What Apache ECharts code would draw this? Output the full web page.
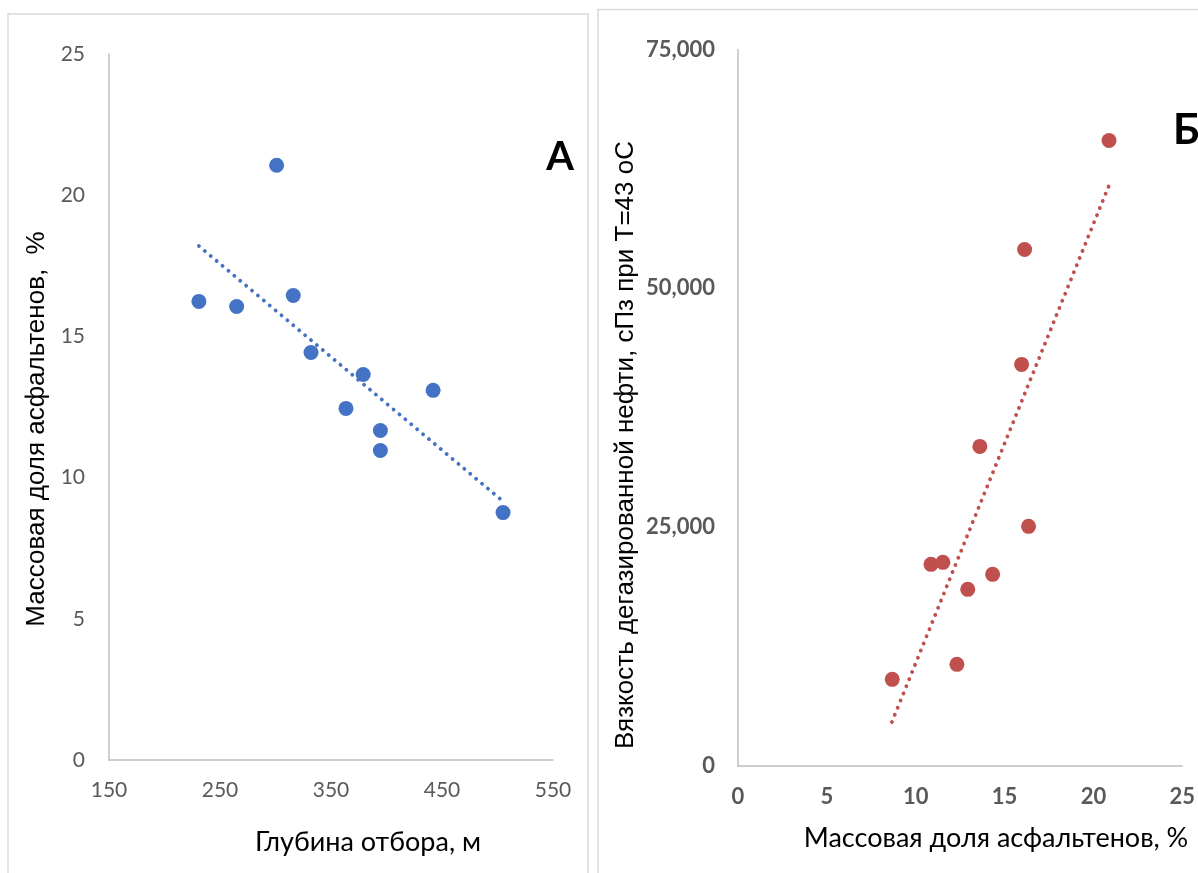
<!DOCTYPE html>
<html><head><meta charset="utf-8">
<script src="https://cdn.jsdelivr.net/npm/echarts@6/dist/echarts.min.js"></script>
<style>html,body{margin:0;padding:0;background:#fff}#c{width:1198px;height:873px}</style>
</head><body><div id="c"></div>
<script>
// Panel A: depth vs asphaltene share
const depthA = [231, 265, 301, 316, 332, 363.5, 379, 394.5, 394.5, 442, 505];
const asphA  = [16.24, 16.06, 21.06, 16.45, 14.43, 12.45, 13.65, 11.67, 10.96, 13.09, 8.76];
const trendAx = [231, 505];
const trendAy = [18.2, 9.16];
// Panel B: asphaltene share vs viscosity
const asphB = [20.88, 16.13, 15.96, 13.61, 16.35, 10.86, 11.53, 14.33, 12.93, 12.32, 8.68];
const viscB = [65478, 54070, 42036, 33455, 25084, 21107, 21317, 20060, 18491, 10643, 9073];
const trendBx = [8.66, 20.9];
const trendBy = [4604, 60874];

const titleAx = 'Глубина отбора, м';
const titleAy = 'Массовая доля асфальтенов,  %';
const titleBx = 'Массовая доля асфальтенов, %';
const titleBy = 'Вязкость дегазированной нефти, сПз при Т=43 оС';

const zip = (a, b) => a.map((v, i) => [v, b[i]]);
const chart = echarts.init(document.getElementById('c'), null, {renderer: 'canvas'});
const axLine = {show: true, lineStyle: {color: '#BFBFBF', width: 1.5}};
const tickFont = 'Lato, sans-serif';
const dotted = {color: null, width: 3.8, type: [0.1, 7.6], cap: 'round'};

chart.setOption({
  animation: false,
  grid: [
    {left: 109, top: 54, width: 444, height: 706},
    {left: 738, top: 49.5, width: 445, height: 716.5}
  ],
  xAxis: [
    {gridIndex: 0, type: 'value', min: 150, max: 550, interval: 100,
     axisLine: axLine, axisTick: {show: false}, splitLine: {show: false},
     axisLabel: {color: '#595959', fontSize: 21, fontFamily: tickFont, margin: 20}},
    {gridIndex: 1, type: 'value', min: 0, max: 25, interval: 5,
     axisLine: axLine, axisTick: {show: false}, splitLine: {show: false},
     axisLabel: {color: '#595959', fontSize: 22, fontWeight: 'bold', fontFamily: tickFont, margin: 20}}
  ],
  yAxis: [
    {gridIndex: 0, type: 'value', min: 0, max: 25, interval: 5,
     axisLine: axLine, axisTick: {show: false}, splitLine: {show: false},
     axisLabel: {color: '#595959', fontSize: 21, fontFamily: tickFont, margin: 24}},
    {gridIndex: 1, type: 'value', min: 0, max: 75000, interval: 25000,
     axisLine: axLine, axisTick: {show: false}, splitLine: {show: false},
     axisLabel: {color: '#595959', fontSize: 22, fontWeight: 'bold', fontFamily: tickFont, margin: 23,
       formatter: v => v.toLocaleString('en-US')}}
  ],
  series: [
    {type: 'line', xAxisIndex: 0, yAxisIndex: 0, data: zip(trendAx, trendAy), symbol: 'none',
     lineStyle: Object.assign({}, dotted, {color: '#4472C4'}), silent: true, z: 1},
    {type: 'scatter', xAxisIndex: 0, yAxisIndex: 0, data: zip(depthA, asphA), symbolSize: 15,
     itemStyle: {color: '#4472C4', opacity: 1}, z: 2},
    {type: 'line', xAxisIndex: 1, yAxisIndex: 1, data: zip(trendBx, trendBy), symbol: 'none',
     lineStyle: Object.assign({}, dotted, {color: '#C0504D'}), silent: true, z: 1},
    {type: 'scatter', xAxisIndex: 1, yAxisIndex: 1, data: zip(asphB, viscB), symbolSize: 15,
     itemStyle: {color: '#C0504D', opacity: 1}, z: 2}
  ],
  graphic: [
    {type: 'rect', shape: {x: 8, y: 14, width: 580, height: 900}, silent: true, z: -1,
     style: {fill: null, stroke: '#D9D9D9', lineWidth: 1.5}},
    {type: 'rect', shape: {x: 598, y: 9.5, width: 700, height: 900}, silent: true, z: -1,
     style: {fill: null, stroke: '#D9D9D9', lineWidth: 1.5}},
    {type: 'text', position: [368, 842],
     style: {text: titleAx, fill: '#000', font: '27px Lato, sans-serif', align: 'center', verticalAlign: 'middle'}},
    {type: 'text', position: [37, 429], rotation: Math.PI / 2,
     style: {text: titleAy, fill: '#000', font: '26px "Liberation Sans", Arial, sans-serif', align: 'center', verticalAlign: 'middle'}},
    {type: 'text', position: [996, 838],
     style: {text: titleBx, fill: '#000', font: '27px Lato, sans-serif', align: 'center', verticalAlign: 'middle'}},
    {type: 'text', position: [626, 445], rotation: Math.PI / 2,
     style: {text: titleBy, fill: '#000', font: '26px "Liberation Sans", Arial, sans-serif', align: 'center', verticalAlign: 'middle'}},
    {type: 'text', position: [560, 157],
     style: {text: 'А', fill: '#000', font: 'bold 40px Lato, sans-serif', align: 'center', verticalAlign: 'middle'}},
    {type: 'text', position: [1173, 130],
     style: {text: 'Б', fill: '#000', font: 'bold 42px Lato, sans-serif', align: 'left', verticalAlign: 'middle'}}
  ]
});
</script></body></html>
